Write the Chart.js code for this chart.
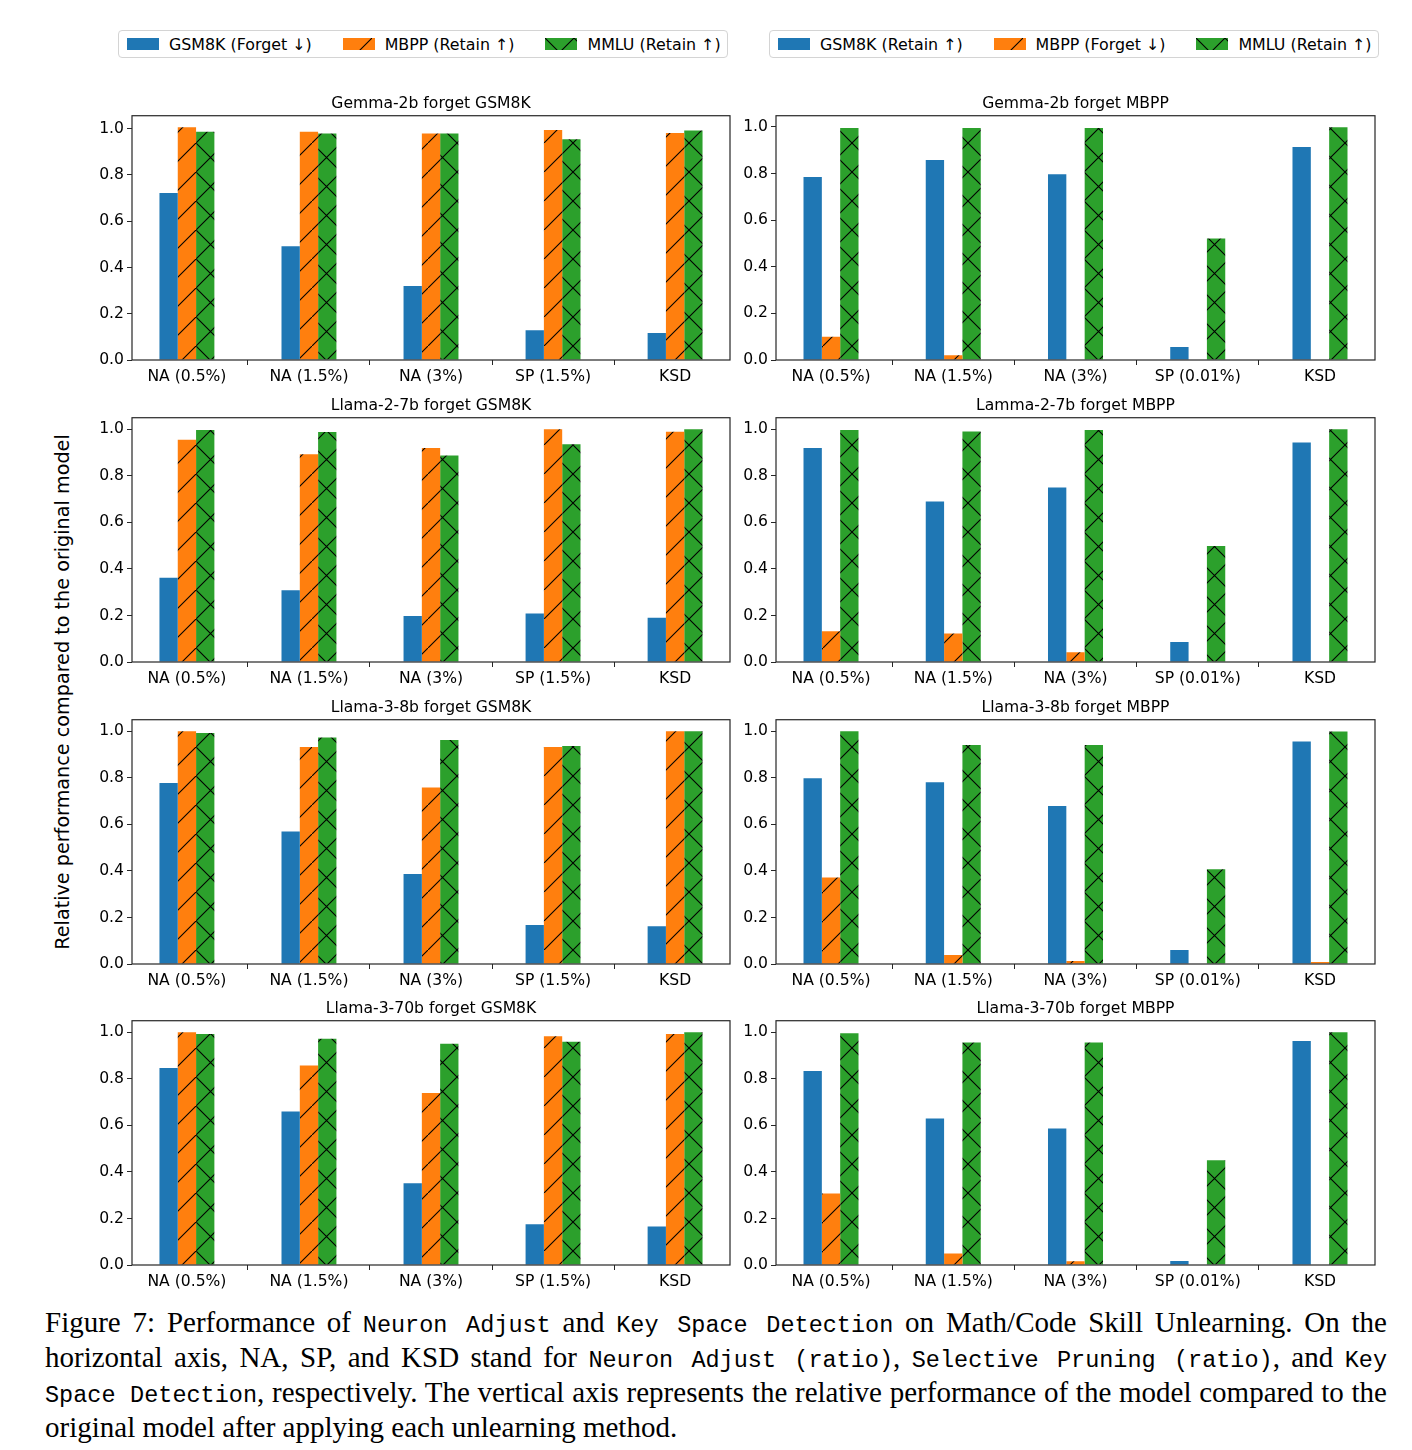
<!DOCTYPE html>
<html>
<head>
<meta charset="utf-8">
<script src="https://cdn.jsdelivr.net/npm/chart.js@4.4.1/dist/chart.umd.min.js"></script>
<style>
  body { margin: 0; background: #fff; width: 1412px; height: 1450px; position: relative; overflow: hidden;
         font-family: "DejaVu Sans", sans-serif; color: #000; }
  canvas.panel { position: absolute; }
  .legend { position: absolute; top: 30px; height: 28px; box-sizing: border-box; padding: 0 6px 0 8px;
            border: 1px solid #d4d4d4; border-radius: 4px; display: flex; align-items: center; font-size: 15.85px; }
  .legend .item { display: flex; align-items: center; margin-right: 31px; white-space: nowrap; }
  .legend .item:last-child { margin-right: 0; }
  .legend canvas { margin-right: 10px; }
  #ylabel { position: absolute; left: 62px; top: 692px; transform: translate(-50%, -50%) rotate(-90deg);
            white-space: nowrap; font-size: 19.2px; }
  #caption { position: absolute; left: 45px; top: 1305px; width: 1342px; font-family: "Liberation Serif", serif;
             font-size: 29px; line-height: 35px; }
  #caption .ln { height: 35px; overflow: visible; text-align: justify; text-align-last: justify; }
  #caption .ln.last { text-align-last: left; }
  #caption .tt { font-family: "Liberation Mono", monospace; font-size: 23.5px; line-height: 1; }
</style>
</head>
<body>
<div class="legend" id="legLeft" style="left:118px"></div>
<div class="legend" id="legRight" style="left:769px"></div>
<div id="ylabel">Relative performance compared to the original model</div>

<canvas class="panel" id="p0" width="660" height="305" style="left:80px;top:85px"></canvas>
<canvas class="panel" id="p1" width="649" height="305" style="left:736px;top:85px"></canvas>
<canvas class="panel" id="p2" width="660" height="305" style="left:80px;top:387px"></canvas>
<canvas class="panel" id="p3" width="649" height="305" style="left:736px;top:387px"></canvas>
<canvas class="panel" id="p4" width="660" height="305" style="left:80px;top:689px"></canvas>
<canvas class="panel" id="p5" width="649" height="305" style="left:736px;top:689px"></canvas>
<canvas class="panel" id="p6" width="660" height="305" style="left:80px;top:990px"></canvas>
<canvas class="panel" id="p7" width="649" height="305" style="left:736px;top:990px"></canvas>

<div id="caption">
  <div class="ln">Figure 7: Performance of <span class="tt">Neuron Adjust</span> and <span class="tt">Key Space Detection</span> on Math/Code Skill Unlearning. On the</div>
  <div class="ln">horizontal axis, NA, SP, and KSD stand for <span class="tt">Neuron Adjust (ratio)</span>, <span class="tt">Selective Pruning (ratio)</span>, and <span class="tt">Key</span></div>
  <div class="ln"><span class="tt">Space Detection</span>, respectively. The vertical axis represents the relative performance of the model compared to the</div>
  <div class="ln last">original model after applying each unlearning method.</div>
</div>

<script>
const catsGsm = ["NA (0.5%)", "NA (1.5%)", "NA (3%)", "SP (1.5%)", "KSD"];
const catsMbpp = ["NA (0.5%)", "NA (1.5%)", "NA (3%)", "SP (0.01%)", "KSD"];
const yTicks = [0.0, 0.2, 0.4, 0.6, 0.8, 1.0];
const namesForgetGsm = ["GSM8K (Forget ↓)", "MBPP (Retain ↑)", "MMLU (Retain ↑)"];
const namesForgetMbpp = ["GSM8K (Retain ↑)", "MBPP (Forget ↓)", "MMLU (Retain ↑)"];

// Gemma-2b forget GSM8K
const gemmaG_gsm = [0.722, 0.492, 0.320, 0.129, 0.117];
const gemmaG_mbpp = [1.006, 0.987, 0.979, 0.995, 0.982];
const gemmaG_mmlu = [0.987, 0.979, 0.979, 0.955, 0.992];
// Gemma-2b forget MBPP
const gemmaM_gsm = [0.785, 0.858, 0.797, 0.056, 0.914];
const gemmaM_mbpp = [0.100, 0.020, 0.0, 0.0, 0.0];
const gemmaM_mmlu = [0.995, 0.995, 0.995, 0.521, 0.998];
// Llama-2-7b forget GSM8K
const llama2G_gsm = [0.362, 0.308, 0.198, 0.208, 0.190];
const llama2G_mbpp = [0.955, 0.893, 0.920, 1.000, 0.990];
const llama2G_mmlu = [0.997, 0.989, 0.888, 0.936, 1.000];
// Lamma-2-7b forget MBPP
const llama2M_gsm = [0.920, 0.690, 0.750, 0.086, 0.943];
const llama2M_mbpp = [0.132, 0.122, 0.042, 0.0, 0.0];
const llama2M_mmlu = [0.997, 0.991, 0.997, 0.499, 1.000];
// Llama-3-8b forget GSM8K
const llama38G_gsm = [0.778, 0.570, 0.387, 0.168, 0.162];
const llama38G_mbpp = [1.000, 0.933, 0.759, 0.933, 1.000];
const llama38G_mmlu = [0.993, 0.974, 0.963, 0.937, 1.000];
// Llama-3-8b forget MBPP
const llama38M_gsm = [0.798, 0.781, 0.679, 0.060, 0.956];
const llama38M_mbpp = [0.372, 0.039, 0.013, 0.0, 0.009];
const llama38M_mmlu = [1.000, 0.941, 0.941, 0.407, 0.999];
// Llama-3-70b forget GSM8K
const llama370G_gsm = [0.847, 0.660, 0.351, 0.175, 0.166];
const llama370G_mbpp = [1.000, 0.858, 0.739, 0.983, 0.993];
const llama370G_mmlu = [0.993, 0.973, 0.951, 0.960, 1.000];
// Llama-3-70b forget MBPP
const llama370M_gsm = [0.834, 0.630, 0.587, 0.017, 0.963];
const llama370M_mbpp = [0.307, 0.049, 0.016, 0.0, 0.0];
const llama370M_mmlu = [0.996, 0.956, 0.956, 0.450, 1.000];

const BLUE = "#1f77b4", ORANGE = "#ff7f0e", GREEN = "#2ca02c";
const FONT = { family: "DejaVu Sans", size: 15.6, weight: "normal" };
const INK = "#262626";

function hatch(color, cross) {
  const s = 29;
  const c = document.createElement("canvas");
  c.width = s; c.height = s;
  const g = c.getContext("2d");
  g.fillStyle = color;
  g.fillRect(0, 0, s, s);
  g.strokeStyle = "#000";
  g.lineWidth = 1.1;
  g.beginPath();
  g.moveTo(-2, s + 2); g.lineTo(s + 2, -2);
  if (cross) { g.moveTo(-2, -2); g.lineTo(s + 2, s + 2); }
  g.stroke();
  return g.createPattern(c, "repeat");
}

const fillBlue = BLUE;
const fillSlash = hatch(ORANGE, false);
const fillCross = hatch(GREEN, true);

const framePlugin = {
  id: "frame",
  afterDatasetsDraw(chart) {
    const { ctx, chartArea: a } = chart;
    ctx.save();
    ctx.strokeStyle = INK;
    ctx.lineWidth = 1.2;
    ctx.strokeRect(a.left, a.top, a.right - a.left, a.bottom - a.top);
    ctx.restore();
  }
};

function points(vals) {
  return vals.map((v, i) => ({ x: i, y: v }));
}

function panel(id, title, cats, a, b, c, names, yWidth) {
  const ymax = Math.max(...a, ...b, ...c) * 1.05;
  const common = { borderWidth: 0, categoryPercentage: 0.45, barPercentage: 1.0 };
  new Chart(document.getElementById(id), {
    type: "bar",
    data: {
      datasets: [
        { label: names[0], data: points(a), backgroundColor: fillBlue, ...common },
        { label: names[1], data: points(b), backgroundColor: fillSlash, ...common },
        { label: names[2], data: points(c), backgroundColor: fillCross, ...common }
      ]
    },
    options: {
      responsive: false,
      animation: false,
      layout: { padding: { top: 10, right: 10, left: 0, bottom: 0 } },
      plugins: {
        legend: { display: false },
        tooltip: { enabled: false },
        title: { display: true, text: title, fullSize: false, color: "#000", font: FONT,
                 padding: { top: 0, bottom: 2 } }
      },
      scales: {
        x: {
          type: "linear", min: -0.45, max: 4.45, offset: false,
          afterBuildTicks: s => { s.ticks = cats.map((_, i) => ({ value: i })); },
          afterFit: s => { s.height = 30; },
          ticks: { callback: v => cats[v], color: "#000", font: FONT, padding: 3,
                   maxRotation: 0, autoSkip: false },
          grid: { display: true, drawOnChartArea: false, drawTicks: true, tickLength: 5, color: INK },
          border: { display: false }
        },
        y: {
          min: 0, max: ymax,
          afterBuildTicks: s => { s.ticks = yTicks.map(v => ({ value: v })); },
          afterFit: s => { s.width = yWidth; },
          ticks: { callback: v => v.toFixed(1), color: "#000", font: FONT, padding: 3 },
          grid: { display: true, drawOnChartArea: false, drawTicks: true, tickLength: 5, color: INK },
          border: { display: false }
        }
      }
    },
    plugins: [framePlugin]
  });
}

panel("p0", "Gemma-2b forget GSM8K", catsGsm, gemmaG_gsm, gemmaG_mbpp, gemmaG_mmlu, namesForgetGsm, 52);
panel("p1", "Gemma-2b forget MBPP", catsMbpp, gemmaM_gsm, gemmaM_mbpp, gemmaM_mmlu, namesForgetMbpp, 40);
panel("p2", "Llama-2-7b forget GSM8K", catsGsm, llama2G_gsm, llama2G_mbpp, llama2G_mmlu, namesForgetGsm, 52);
panel("p3", "Lamma-2-7b forget MBPP", catsMbpp, llama2M_gsm, llama2M_mbpp, llama2M_mmlu, namesForgetMbpp, 40);
panel("p4", "Llama-3-8b forget GSM8K", catsGsm, llama38G_gsm, llama38G_mbpp, llama38G_mmlu, namesForgetGsm, 52);
panel("p5", "Llama-3-8b forget MBPP", catsMbpp, llama38M_gsm, llama38M_mbpp, llama38M_mmlu, namesForgetMbpp, 40);
panel("p6", "Llama-3-70b forget GSM8K", catsGsm, llama370G_gsm, llama370G_mbpp, llama370G_mmlu, namesForgetGsm, 52);
panel("p7", "Llama-3-70b forget MBPP", catsMbpp, llama370M_gsm, llama370M_mbpp, llama370M_mmlu, namesForgetMbpp, 40);

// legends above each column, swatches use the same fills as the bars
function legend(id, names) {
  const box = document.getElementById(id);
  const fills = [fillBlue, fillSlash, fillCross];
  names.forEach((n, i) => {
    const item = document.createElement("div");
    item.className = "item";
    const sw = document.createElement("canvas");
    sw.width = 32; sw.height = 12;
    const g = sw.getContext("2d");
    g.fillStyle = fills[i];
    g.fillRect(0, 0, 32, 12);
    item.appendChild(sw);
    item.appendChild(document.createTextNode(n));
    box.appendChild(item);
  });
}
legend("legLeft", namesForgetGsm);
legend("legRight", namesForgetMbpp);
</script>
</body>
</html>
